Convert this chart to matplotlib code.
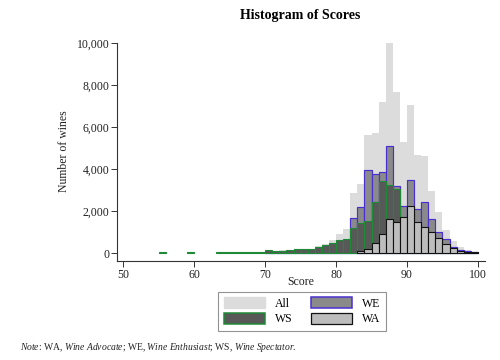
import matplotlib
matplotlib.use("Agg")
import matplotlib.pyplot as plt
from matplotlib.patches import Patch

plt.rcParams['font.family'] = ['Liberation Serif', 'DejaVu Serif']
plt.rcParams['mathtext.fontset'] = 'custom'
plt.rcParams['mathtext.rm'] = 'Liberation Serif'
plt.rcParams['mathtext.it'] = 'Liberation Serif:italic'

scores = list(range(55, 100))
all_counts = [40, 0, 0, 0, 40, 0, 0, 0, 30, 50, 50, 50, 50, 60, 70, 140, 90, 130, 140, 180,
              190, 200, 330, 440, 640, 900, 1150, 2850, 3300, 5620, 5700, 7200, 10000, 7650, 5300,
              7050, 4650, 4600, 2950, 1950, 1100, 560, 300, 160, 70]
we_counts = [0, 0, 0, 0, 0, 0, 0, 0, 0, 0, 0, 0, 0, 0, 0, 10, 10, 10, 10, 10,
             10, 20, 30, 60, 150, 300, 540, 1650, 2200, 3950, 3780, 3870, 5100, 3180, 2220,
             3500, 2100, 2420, 1600, 1000, 660, 300, 150, 80, 30]
ws_counts = [40, 0, 0, 0, 40, 0, 0, 0, 30, 40, 40, 40, 40, 50, 60, 130, 80, 120, 130, 170,
             170, 180, 300, 380, 470, 600, 650, 1200, 1450, 1520, 2420, 3420, 3240, 3040, 1330,
             1020, 1100, 1100, 820, 320, 210, 100, 50, 20, 10]
wa_counts = [0, 0, 0, 0, 0, 0, 0, 0, 0, 0, 0, 0, 0, 0, 0, 0, 0, 0, 0, 0,
             0, 0, 0, 0, 0, 0, 0, 0, 80, 200, 500, 900, 1620, 1490, 1730,
             2240, 1460, 1220, 980, 720, 420, 240, 100, 60, 30]

x_ticks = [50, 60, 70, 80, 90, 100]
y_ticks = [0, 2000, 4000, 6000, 8000, 10000]
y_ticklabels = ['0', '2,000', '4,000', '6,000', '8,000', '10,000']

c_all = '#dcdcdc'
c_we_fill, c_we_edge = '#8a8a8a', '#4a2fd0'
c_ws_fill, c_ws_edge = '#585858', '#1f8a35'
c_wa_fill, c_wa_edge = '#bdbdbd', '#111111'

fig = plt.figure(figsize=(5, 3.6), dpi=100)
ax = fig.add_axes([0.234, 0.275, 0.736, 0.611])


def draw(counts, **kw):
    xs = [s for s, c in zip(scores, counts) if c > 0]
    hs = [c for c in counts if c > 0]
    ax.bar(xs, hs, width=1, align='edge', **kw)


draw(all_counts, color=c_all, linewidth=0)
draw(we_counts, color=c_we_fill, edgecolor=c_we_edge, linewidth=0.85)
draw(ws_counts, color=c_ws_fill, edgecolor=c_ws_edge, linewidth=0.8)
draw(wa_counts, color=c_wa_fill, edgecolor=c_wa_edge, linewidth=0.8)

ax.set_xlim(49.1, 101)
ax.set_ylim(-380, 10100)
ax.set_xticks(x_ticks)
ax.set_yticks(y_ticks)
ax.set_yticklabels(y_ticklabels)
ax.spines['top'].set_visible(False)
ax.spines['right'].set_visible(False)
ax.spines['left'].set_bounds(-380, 10000)
for s in ('left', 'bottom'):
    ax.spines[s].set_color('#333333')
    ax.spines[s].set_linewidth(0.8)
ax.tick_params(axis='both', direction='out', length=4, width=0.7, color='#333333',
               labelsize=8.5, labelcolor='#222222', pad=1.5)
ax.set_xlabel('Score', fontsize=8.5, color='#222222')
ax.xaxis.set_label_coords(0.5, -0.068)
ax.set_ylabel('Number of wines', fontsize=8.5, labelpad=5, color='#222222')

fig.text(0.6, 0.958, 'Histogram of Scores', ha='center', va='center',
         fontsize=10, fontweight='bold')

handles = [Patch(facecolor=c_all, edgecolor=c_all, label='All'),
           Patch(facecolor=c_ws_fill, edgecolor=c_ws_edge, linewidth=1.1, label='WS'),
           Patch(facecolor=c_we_fill, edgecolor=c_we_edge, linewidth=1.1, label='WE'),
           Patch(facecolor=c_wa_fill, edgecolor=c_wa_edge, linewidth=0.9, label='WA')]
leg = fig.legend(handles=handles, ncol=2, loc='upper center', bbox_to_anchor=(0.604, 0.189),
                 borderaxespad=0, fontsize=8.5, frameon=True, fancybox=False,
                 handlelength=3.5, handleheight=1.0, columnspacing=1.6, labelspacing=0.3,
                 borderpad=0.45, handletextpad=0.8)
leg.get_frame().set_edgecolor('#777777')
leg.get_frame().set_linewidth(0.8)

note = (r'$\mathit{Note}$: WA, $\mathit{Wine\ Advocate}$; WE, $\mathit{Wine\ Enthusiast}$; '
        r'WS, $\mathit{Wine\ Spectator}$.')
fig.text(20 / 500, 1 - 348 / 360, note, fontsize=6.9, ha='left', va='center', color='#222222')

fig.savefig('out.png', dpi=100)
